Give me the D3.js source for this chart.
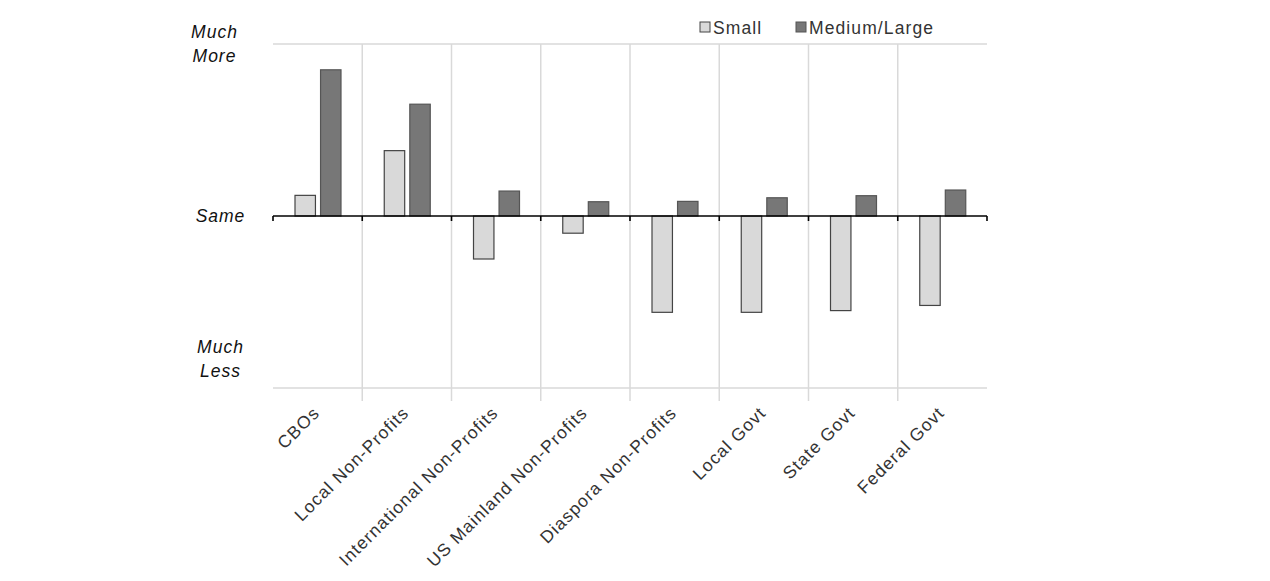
<!DOCTYPE html>
<html>
<head>
<meta charset="utf-8">
<script src="https://cdn.jsdelivr.net/npm/d3@7"></script>
<style>
  body { margin: 0; background: #fff; }
  text { font-family: "Liberation Sans", Arial, sans-serif; }
</style>
</head>
<body>
<div id="chart"></div>
<script>
// categories and the two series (scale: -1 = much less, 0 = same, 1 = much more)
const categories = ["CBOs", "Local Non-Profits", "International Non-Profits", "US Mainland Non-Profits",
                    "Diaspora Non-Profits", "Local Govt", "State Govt", "Federal Govt"];
const seriesNames = ["Small", "Medium/Large"];
const smallValues = [0.12, 0.38, -0.25, -0.10, -0.56, -0.56, -0.55, -0.52];
const mediumValues = [0.85, 0.65, 0.145, 0.083, 0.085, 0.106, 0.118, 0.151];
const yTickValues = [1, 0, -1];
const yTickLabels = [["Much", "More"], ["Same"], ["Much", "Less"]];

const width = 1270, height = 581;
const plotLeft = 273, plotRight = 987, plotTop = 44, plotBottom = 388;

const svg = d3.select("#chart").append("svg")
    .attr("width", width)
    .attr("height", height);

const x0 = d3.scaleBand().domain(categories).range([plotLeft, plotRight]).padding(0);
const x1 = d3.scaleBand().domain(seriesNames).range([22, 68]).paddingInner(0.2);
const y = d3.scaleLinear().domain([-1, 1]).range([plotBottom, plotTop]);

const fills = { "Small": "#d9d9d9", "Medium/Large": "#777777" };
const strokes = { "Small": "#444", "Medium/Large": "#555" };

// horizontal gridlines (top and bottom)
svg.selectAll(".hgrid")
    .data([1, -1])
    .enter()
    .append("line")
    .attr("x1", plotLeft).attr("x2", plotRight)
    .attr("y1", d => y(d)).attr("y2", d => y(d))
    .attr("stroke", "#d9d9d9")
    .attr("stroke-width", 1.5);

// vertical gridlines between categories
svg.selectAll(".vgrid")
    .data(categories.slice(1))
    .enter()
    .append("line")
    .attr("x1", d => x0(d)).attr("x2", d => x0(d))
    .attr("y1", plotTop).attr("y2", plotBottom + 13)
    .attr("stroke", "#d9d9d9")
    .attr("stroke-width", 1.5);

// bars
const rows = categories.map((c, i) => ({ cat: c, vals: [smallValues[i], mediumValues[i]] }));
const groups = svg.selectAll(".grp")
    .data(rows)
    .enter()
    .append("g")
    .attr("transform", d => "translate(" + x0(d.cat) + ",0)");

groups.selectAll("rect")
    .data(d => d.vals.map((v, j) => ({ name: seriesNames[j], v: v })))
    .enter()
    .append("rect")
    .attr("x", d => x1(d.name))
    .attr("width", x1.bandwidth())
    .attr("y", d => Math.min(y(d.v), y(0)))
    .attr("height", d => Math.abs(y(d.v) - y(0)))
    .attr("fill", d => fills[d.name])
    .attr("stroke", d => strokes[d.name])
    .attr("stroke-width", 1.2);

// zero axis with small ticks at category boundaries
svg.append("line")
    .attr("x1", plotLeft).attr("x2", plotRight)
    .attr("y1", y(0)).attr("y2", y(0))
    .attr("stroke", "#000")
    .attr("stroke-width", 1.6);

const boundaries = categories.map(c => x0(c)).concat([plotRight]);
svg.selectAll(".tick")
    .data(boundaries)
    .enter()
    .append("line")
    .attr("x1", d => d).attr("x2", d => d)
    .attr("y1", y(0)).attr("y2", y(0) + 5)
    .attr("stroke", "#000")
    .attr("stroke-width", 1.6);

// y labels (the bottom one sits a little above its gridline, as in the original)
const yLabelX = [214.5, 220.5, 220.5];
const yLabelShift = [0, 0, -29];
yTickValues.forEach((v, i) => {
    const lines = yTickLabels[i];
    const t = svg.append("text")
        .attr("x", yLabelX[i])
        .attr("y", y(v) + 6 - (lines.length - 1) * 12 + yLabelShift[i])
        .attr("text-anchor", "middle")
        .attr("font-size", 17.5)
        .attr("letter-spacing", 1)
        .attr("font-style", "italic")
        .attr("fill", "#111");
    lines.forEach((l, k) => {
        t.append("tspan").attr("x", yLabelX[i]).attr("dy", k === 0 ? 0 : 24).text(l);
    });
});

// category labels, rotated
svg.selectAll(".xlab")
    .data(categories)
    .enter()
    .append("text")
    .attr("transform", d => "translate(" + (x0(d) + x0.bandwidth() / 2 + 3) + "," + (plotBottom + 26) + ") rotate(-45)")
    .attr("text-anchor", "end")
    .attr("font-size", 17.5)
    .attr("letter-spacing", 1.1)
    .attr("fill", "#333")
    .text(d => d);

// legend
const legendX = [700, 796];
seriesNames.forEach((s, i) => {
    svg.append("rect")
        .attr("x", legendX[i]).attr("y", 22)
        .attr("width", 10).attr("height", 10)
        .attr("fill", fills[s])
        .attr("stroke", strokes[s])
        .attr("stroke-width", 1);
    svg.append("text")
        .attr("x", legendX[i] + 13).attr("y", 33.5)
        .attr("font-size", 17.5)
        .attr("letter-spacing", 1.1)
        .attr("fill", "#333")
        .text(s);
});
</script>
</body>
</html>
